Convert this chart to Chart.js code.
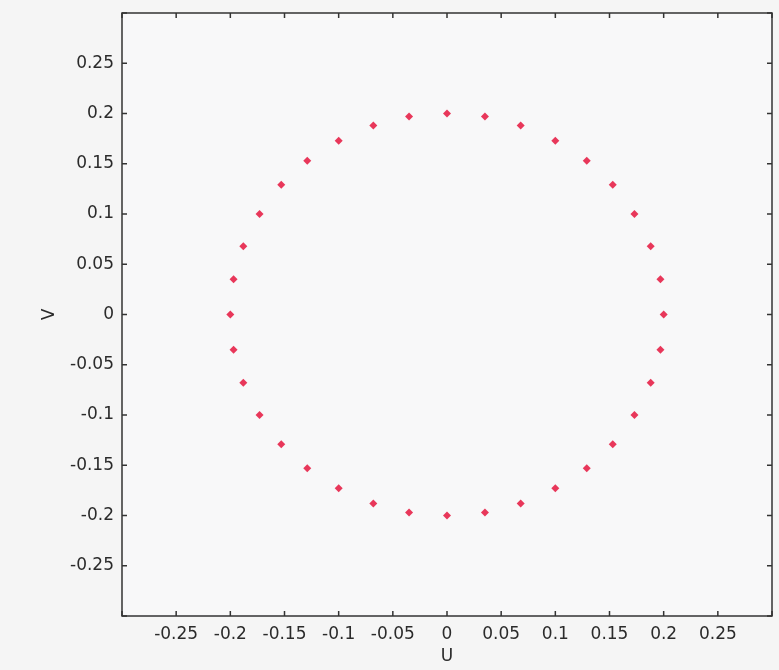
<!DOCTYPE html>
<html>
<head>
<meta charset="utf-8">
<script src="https://cdn.jsdelivr.net/npm/chart.js@4"></script>
<style>
  html, body { margin: 0; padding: 0; background: #f5f5f5; }
  #wrap { width: 779px; height: 670px; }
</style>
</head>
<body>
<div id="wrap"><canvas id="grafico" width="779" height="670"></canvas></div>
<script>
// puntos (circulo de radio 0.2, cada 10 grados)
const puntosU = [0, 0.035, 0.068, 0.1, 0.129, 0.153, 0.173, 0.188, 0.197, 0.2,
  0.197, 0.188, 0.173, 0.153, 0.129, 0.1, 0.068, 0.035, 0,
  -0.035, -0.068, -0.1, -0.129, -0.153, -0.173, -0.188, -0.197, -0.2,
  -0.197, -0.188, -0.173, -0.153, -0.129, -0.1, -0.068, -0.035];
const puntosV = [0.2, 0.197, 0.188, 0.173, 0.153, 0.129, 0.1, 0.068, 0.035, 0,
  -0.035, -0.068, -0.1, -0.129, -0.153, -0.173, -0.188, -0.197, -0.2,
  -0.197, -0.188, -0.173, -0.153, -0.129, -0.1, -0.068, -0.035, 0,
  0.035, 0.068, 0.1, 0.129, 0.153, 0.173, 0.188, 0.197];
const rangoMin = -0.3;
const rangoMax = 0.3;
const paso = 0.05;

const colorTexto = "#2b2b2b";
const fuente = { family: "DejaVu Sans", size: 17 };

function etiqueta(v) {
  if (Math.abs(v) > 0.29) return "";
  return String(Number(v.toFixed(2)));
}

// marco y marcas hacia adentro (estilo matlab)
const marcoPlugin = {
  id: "marco",
  afterDraw(chart) {
    const { ctx, chartArea: a } = chart;
    const sx = chart.scales.x, sy = chart.scales.y;
    const largo = 5;
    ctx.save();
    ctx.strokeStyle = "#333";
    ctx.lineWidth = 1.5;
    ctx.strokeRect(a.left, a.top, a.right - a.left, a.bottom - a.top);
    ctx.beginPath();
    sx.ticks.forEach((t, i) => {
      const px = sx.getPixelForTick(i);
      ctx.moveTo(px, a.bottom); ctx.lineTo(px, a.bottom - largo);
      ctx.moveTo(px, a.top); ctx.lineTo(px, a.top + largo);
    });
    sy.ticks.forEach((t, i) => {
      const py = sy.getPixelForTick(i);
      ctx.moveTo(a.left, py); ctx.lineTo(a.left + largo, py);
      ctx.moveTo(a.right, py); ctx.lineTo(a.right - largo, py);
    });
    ctx.stroke();
    ctx.restore();
  }
};

const fondoPlugin = {
  id: "fondo",
  beforeDraw(chart) {
    const { ctx, chartArea: a } = chart;
    ctx.save();
    ctx.fillStyle = "#f8f8f9";
    ctx.fillRect(a.left, a.top, a.right - a.left, a.bottom - a.top);
    ctx.restore();
  }
};

new Chart(document.getElementById("grafico"), {
  type: "scatter",
  data: {
    datasets: [{
      label: "UV",
      data: puntosU.map((u, i) => ({ x: u, y: puntosV[i] })),
      backgroundColor: "#e8375a",
      borderColor: "#e8375a",
      pointStyle: "rectRot",
      pointRadius: 4,
      borderWidth: 0
    }]
  },
  options: {
    responsive: false,
    animation: false,
    layout: { autoPadding: false, padding: { top: 13, right: 7, left: 0, bottom: 0 } },
    plugins: { legend: { display: false }, tooltip: { enabled: false } },
    scales: {
      x: {
        min: rangoMin, max: rangoMax,
        afterFit(s) { s.height = 54; s.paddingLeft = 0; s.paddingRight = 0; },
        ticks: { stepSize: paso, color: colorTexto, font: fuente, padding: 8, maxRotation: 0, autoSkip: false, callback: etiqueta },
        grid: { display: false, drawTicks: false },
        border: { display: false },
        title: { display: true, text: "U", color: colorTexto, font: fuente, padding: { top: 0, bottom: 3 } }
      },
      y: {
        min: rangoMin, max: rangoMax,
        afterFit(s) { s.width = 122; s.paddingTop = 0; s.paddingBottom = 0; },
        ticks: { stepSize: paso, color: colorTexto, font: fuente, padding: 8, autoSkip: false, callback: etiqueta },
        grid: { display: false, drawTicks: false },
        border: { display: false },
        title: { display: true, text: "V", color: colorTexto, font: fuente, padding: { top: 39, bottom: 0 } }
      }
    }
  },
  plugins: [fondoPlugin, marcoPlugin]
});
</script>
</body>
</html>
